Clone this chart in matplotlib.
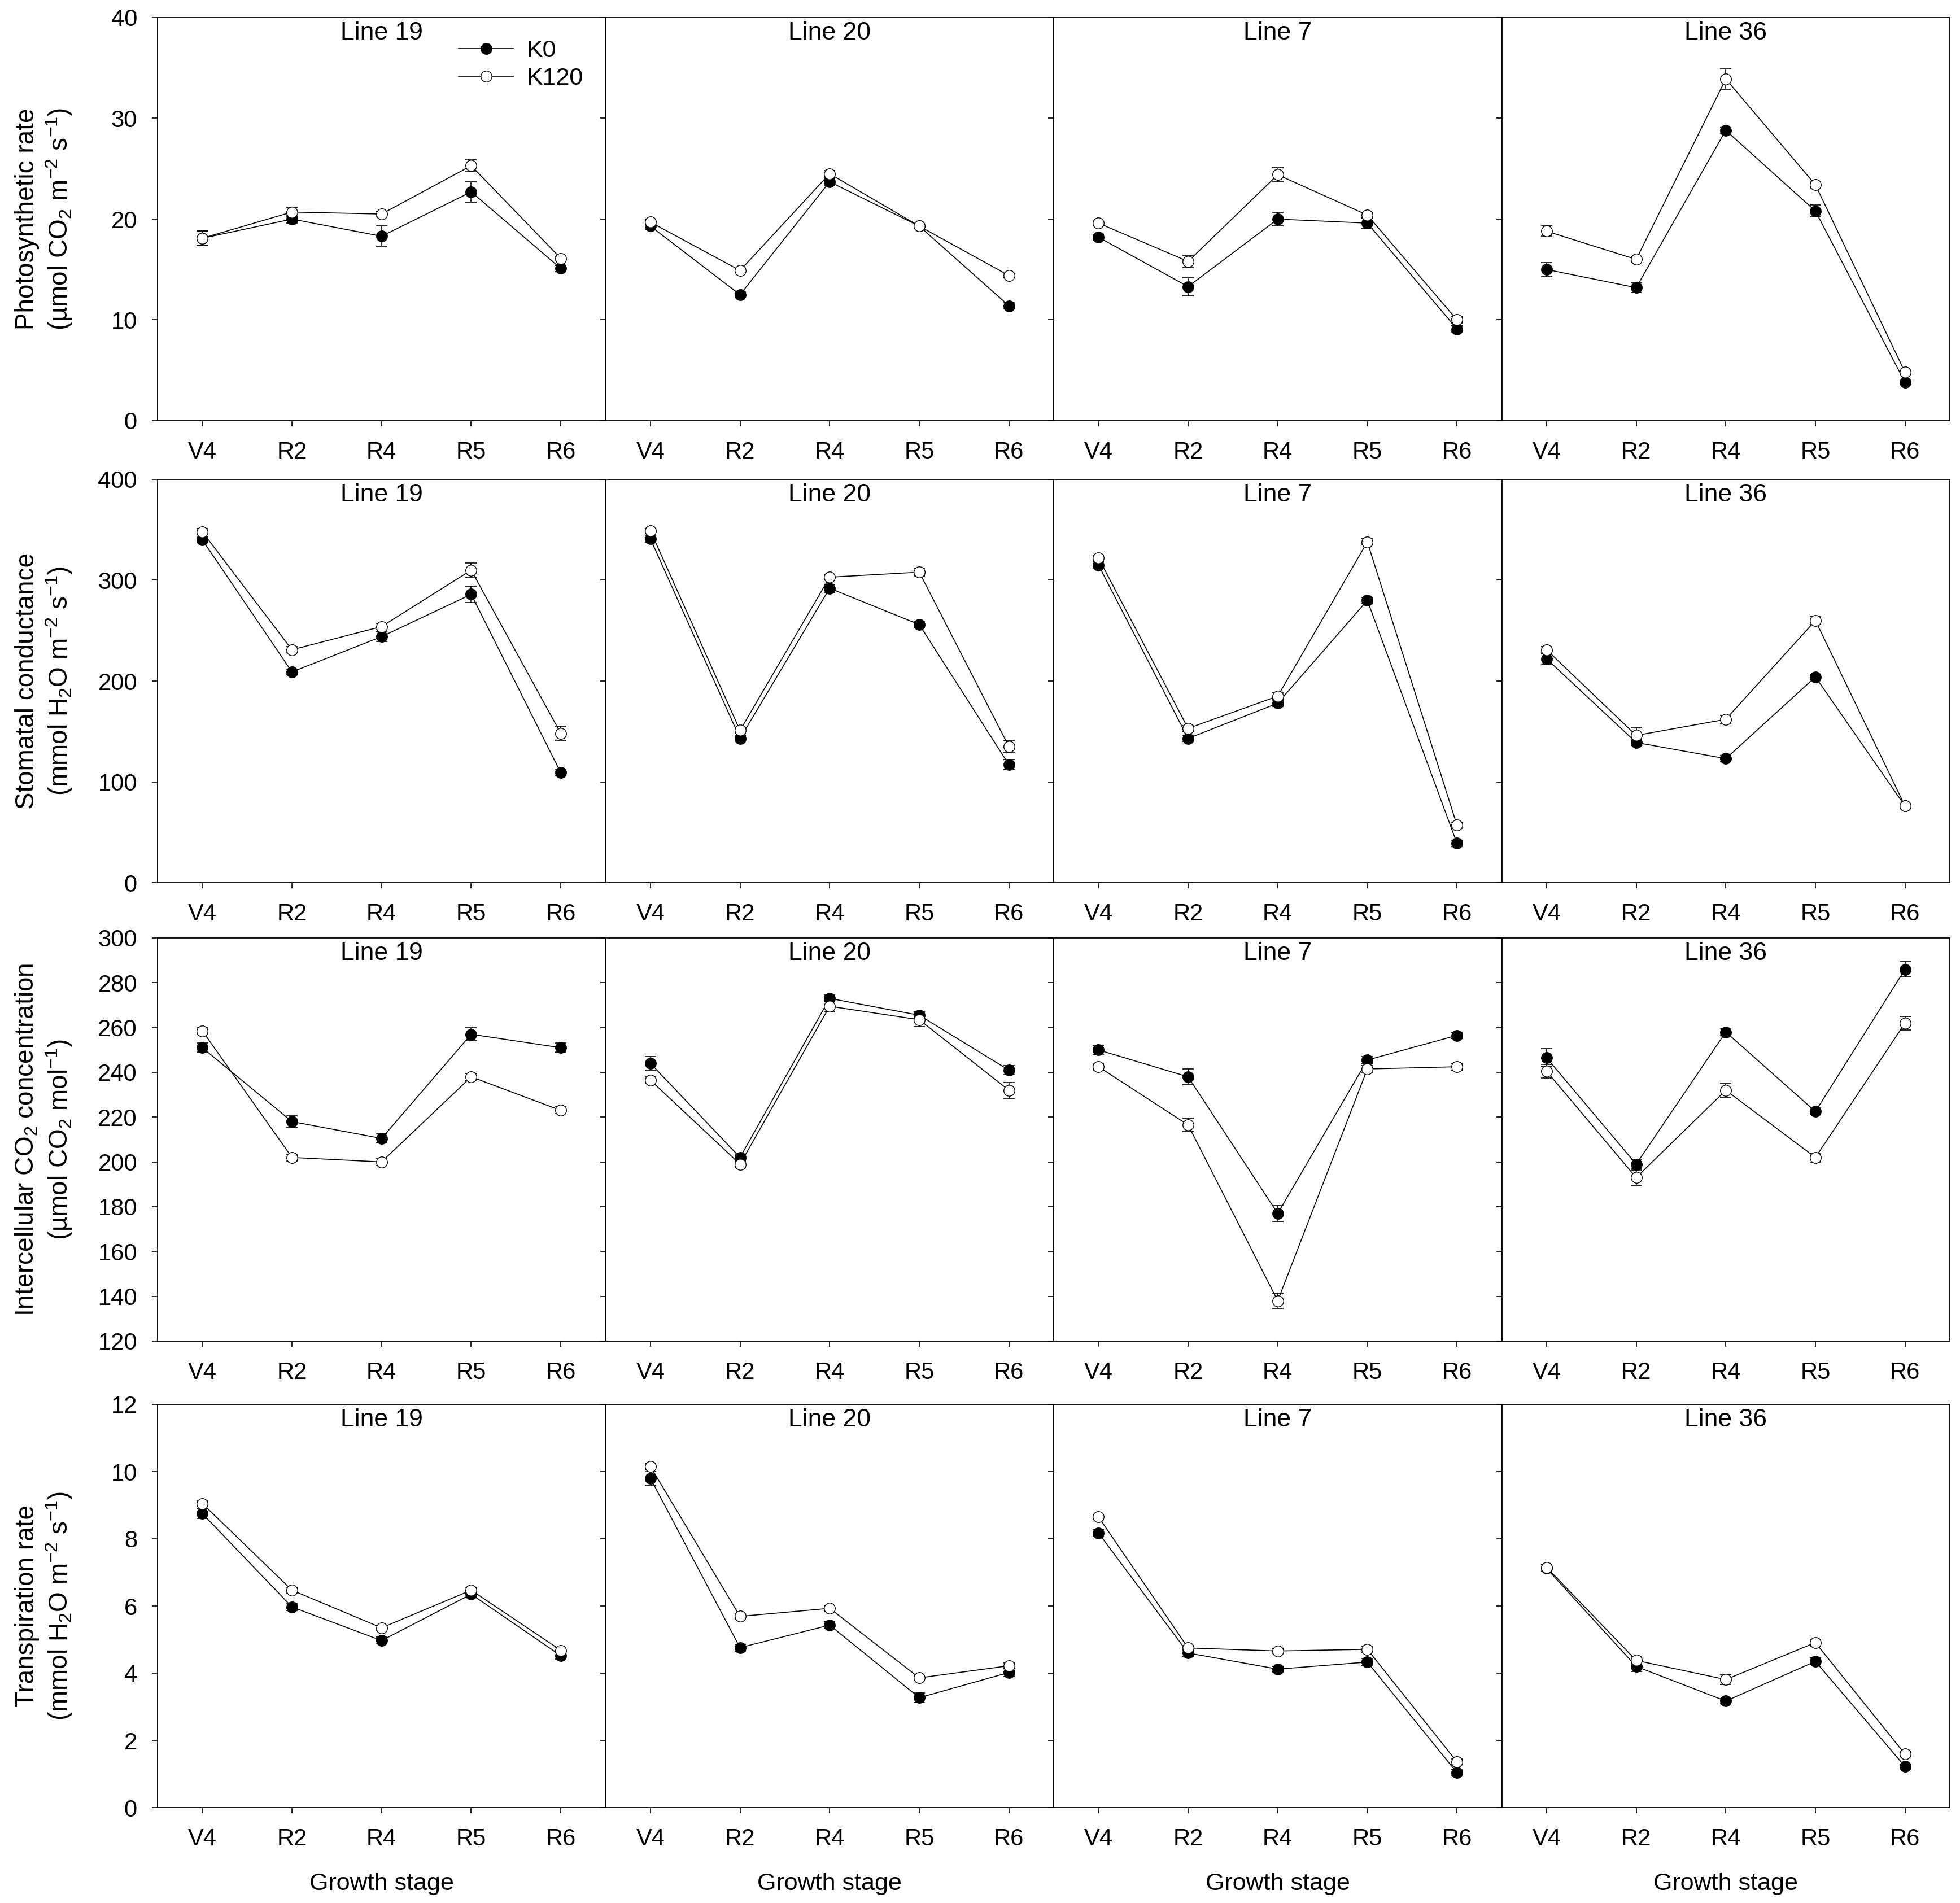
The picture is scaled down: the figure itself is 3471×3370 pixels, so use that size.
import matplotlib
matplotlib.use("Agg")
import matplotlib.pyplot as plt
from matplotlib.lines import Line2D
import numpy as np

plt.rcParams["font.family"] = ["Liberation Sans", "DejaVu Sans"]
plt.rcParams["mathtext.fontset"] = "custom"
plt.rcParams["mathtext.rm"] = "Liberation Sans"
plt.rcParams["mathtext.it"] = "Liberation Sans:italic"
plt.rcParams["mathtext.default"] = "regular"

stages = ["V4", "R2", "R4", "R5", "R6"]
lines = ["Line 19", "Line 20", "Line 7", "Line 36"]
treatments = ["K0", "K120"]

# photosynthetic rate (one row per line: 19, 20, 7, 36)
pn_k0 = [[18.1, 20.0, 18.3, 22.7, 15.1],
         [19.3, 12.5, 23.7, 19.3, 11.4],
         [18.2, 13.3, 20.0, 19.6, 9.1],
         [15.0, 13.2, 28.8, 20.8, 3.8]]
pn_k0_se = [[0.7, 0.4, 1.0, 1.0, 0.3],
            [0.3, 0.3, 0.4, 0.2, 0.3],
            [0.3, 0.9, 0.7, 0.5, 0.3],
            [0.7, 0.5, 0.3, 0.6, 0.2]]
pn_k120 = [[18.1, 20.7, 20.5, 25.3, 16.1],
           [19.7, 14.9, 24.5, 19.3, 14.4],
           [19.6, 15.8, 24.4, 20.4, 10.0],
           [18.8, 16.0, 33.9, 23.4, 4.8]]
pn_k120_se = [[0.7, 0.5, 0.3, 0.6, 0.2],
              [0.3, 0.2, 0.3, 0.2, 0.2],
              [0.2, 0.6, 0.7, 0.3, 0.3],
              [0.5, 0.3, 1.0, 0.3, 0.2]]

# stomatal conductance
gs_k0 = [[340, 209, 244, 286, 109],
         [341, 143, 292, 256, 117],
         [315, 143, 178, 280, 39],
         [222, 139, 123, 204, 76]]
gs_k0_se = [[3, 3, 5, 8, 3],
            [3, 3, 4, 3, 5],
            [3, 3, 3, 3, 3],
            [5, 3, 3, 3, 2]]
gs_k120 = [[348, 231, 254, 310, 148],
           [349, 151, 303, 308, 135],
           [322, 153, 185, 338, 57],
           [231, 146, 162, 260, 76]]
gs_k120_se = [[3, 3, 3, 7, 7],
              [2, 3, 3, 4, 6],
              [3, 3, 3, 3, 3],
              [3, 8, 4, 4, 2]]

# intercellular CO2 concentration
ci_k0 = [[251, 218, 210.5, 257, 251],
         [244, 202, 273, 265.5, 241],
         [250, 238, 177, 245.5, 256.5],
         [246.5, 199, 258, 222.5, 286]]
ci_k0_se = [[2, 2.5, 2, 3, 2],
            [3, 1.5, 1.5, 1.5, 2],
            [2, 3.5, 3.5, 1.5, 1.5],
            [4, 2, 1.5, 1.5, 3.5]]
ci_k120 = [[258.5, 202, 200, 238, 223],
           [236.5, 199, 269.5, 263.5, 232],
           [242.5, 216.5, 138, 241.5, 242.5],
           [240.5, 193, 232, 202, 262]]
ci_k120_se = [[1.5, 1.5, 1.5, 1.5, 1.5],
              [1.5, 1.5, 2.5, 3, 3.5],
              [1.5, 3, 3.5, 1.5, 1.5],
              [3, 3.5, 3, 2, 3]]

# transpiration rate
tr_k0 = [[8.75, 5.97, 4.97, 6.35, 4.52],
         [9.80, 4.76, 5.43, 3.27, 4.02],
         [8.17, 4.60, 4.12, 4.33, 1.04],
         [7.12, 4.20, 3.17, 4.35, 1.22]]
tr_k0_se = [[0.15, 0.10, 0.10, 0.10, 0.10],
            [0.20, 0.10, 0.10, 0.15, 0.12],
            [0.10, 0.10, 0.08, 0.10, 0.08],
            [0.10, 0.15, 0.08, 0.10, 0.08]]
tr_k120 = [[9.05, 6.47, 5.35, 6.47, 4.68],
           [10.15, 5.69, 5.93, 3.86, 4.22],
           [8.65, 4.75, 4.66, 4.71, 1.36],
           [7.15, 4.38, 3.81, 4.91, 1.59]]
tr_k120_se = [[0.08, 0.08, 0.08, 0.08, 0.08],
              [0.10, 0.08, 0.08, 0.08, 0.08],
              [0.08, 0.08, 0.08, 0.08, 0.08],
              [0.10, 0.10, 0.15, 0.10, 0.08]]

ylabels = [
    "Photosynthetic rate\n(µmol CO$_2$ m$^{-2}$ s$^{-1}$)",
    "Stomatal conductance\n(mmol H$_2$O m$^{-2}$ s$^{-1}$)",
    "Intercellular CO$_2$ concentration\n(µmol CO$_2$ mol$^{-1}$)",
    "Transpiration rate\n(mmol H$_2$O m$^{-2}$ s$^{-1}$)",
]
yticks = [np.arange(0, 41, 10), np.arange(0, 401, 100),
          np.arange(120, 301, 20), np.arange(0, 13, 2)]

rows = [
    (pn_k0, pn_k0_se, pn_k120, pn_k120_se),
    (gs_k0, gs_k0_se, gs_k120, gs_k120_se),
    (ci_k0, ci_k0_se, ci_k120, ci_k120_se),
    (tr_k0, tr_k0_se, tr_k120, tr_k120_se),
]

W, H = 3471, 3370
fig = plt.figure(figsize=(W / 100, H / 100), dpi=100)

left_px = 279
panel_w = 793.5
panel_h = 714
row_tops = [31, 849, 1661, 2487]

x = np.arange(len(stages))
for r, (k0, k0_se, k120, k120_se) in enumerate(rows):
    for c, name in enumerate(lines):
        ax = fig.add_axes([(left_px + c * panel_w) / W,
                           1 - (row_tops[r] + panel_h) / H,
                           panel_w / W, panel_h / H])
        common = dict(color="black", mec="black", ms=14, lw=1.2,
                      elinewidth=1.2, capsize=7, capthick=1.2)
        ax.errorbar(x, k0[c], yerr=k0_se[c], fmt="o-", mfc="black", **common)
        ax.errorbar(x, k120[c], yerr=k120_se[c], fmt="o-", mfc="white", **common)

        ax.set_xlim(-0.5, 4.5)
        ax.set_ylim(yticks[r][0], yticks[r][-1])
        ax.set_xticks(x)
        ax.set_xticklabels(stages)
        ax.set_yticks(yticks[r])
        ax.tick_params(direction="out", length=7, width=1.2, labelsize=30, pad=19,
                       top=False, right=False)
        for sp in ax.spines.values():
            sp.set_linewidth(1.3)
        if c > 0:
            ax.tick_params(labelleft=False)
        else:
            ax.set_ylabel(ylabels[r], fontsize=33)
            ax.yaxis.set_label_coords(-0.185, 0.5)
        if r == 3:
            ax.set_xlabel("Growth stage", fontsize=31, labelpad=28)

        ax.text(0.5, 0.962, name, transform=ax.transAxes, ha="center",
                va="center", fontsize=32)

        if r == 0 and c == 0:
            handles = [
                Line2D([], [], color="black", lw=1.2, marker="o", ms=14,
                       mfc="black", mec="black"),
                Line2D([], [], color="black", lw=1.2, marker="o", ms=14,
                       mfc="white", mec="black"),
            ]
            ax.legend(handles, treatments, loc="upper left",
                      bbox_to_anchor=(0.672, 0.945), frameon=False, fontsize=31,
                      handlelength=2.25, handletextpad=0.55, labelspacing=0.2,
                      borderpad=0, borderaxespad=0)

fig.savefig("out.png", dpi=100)
